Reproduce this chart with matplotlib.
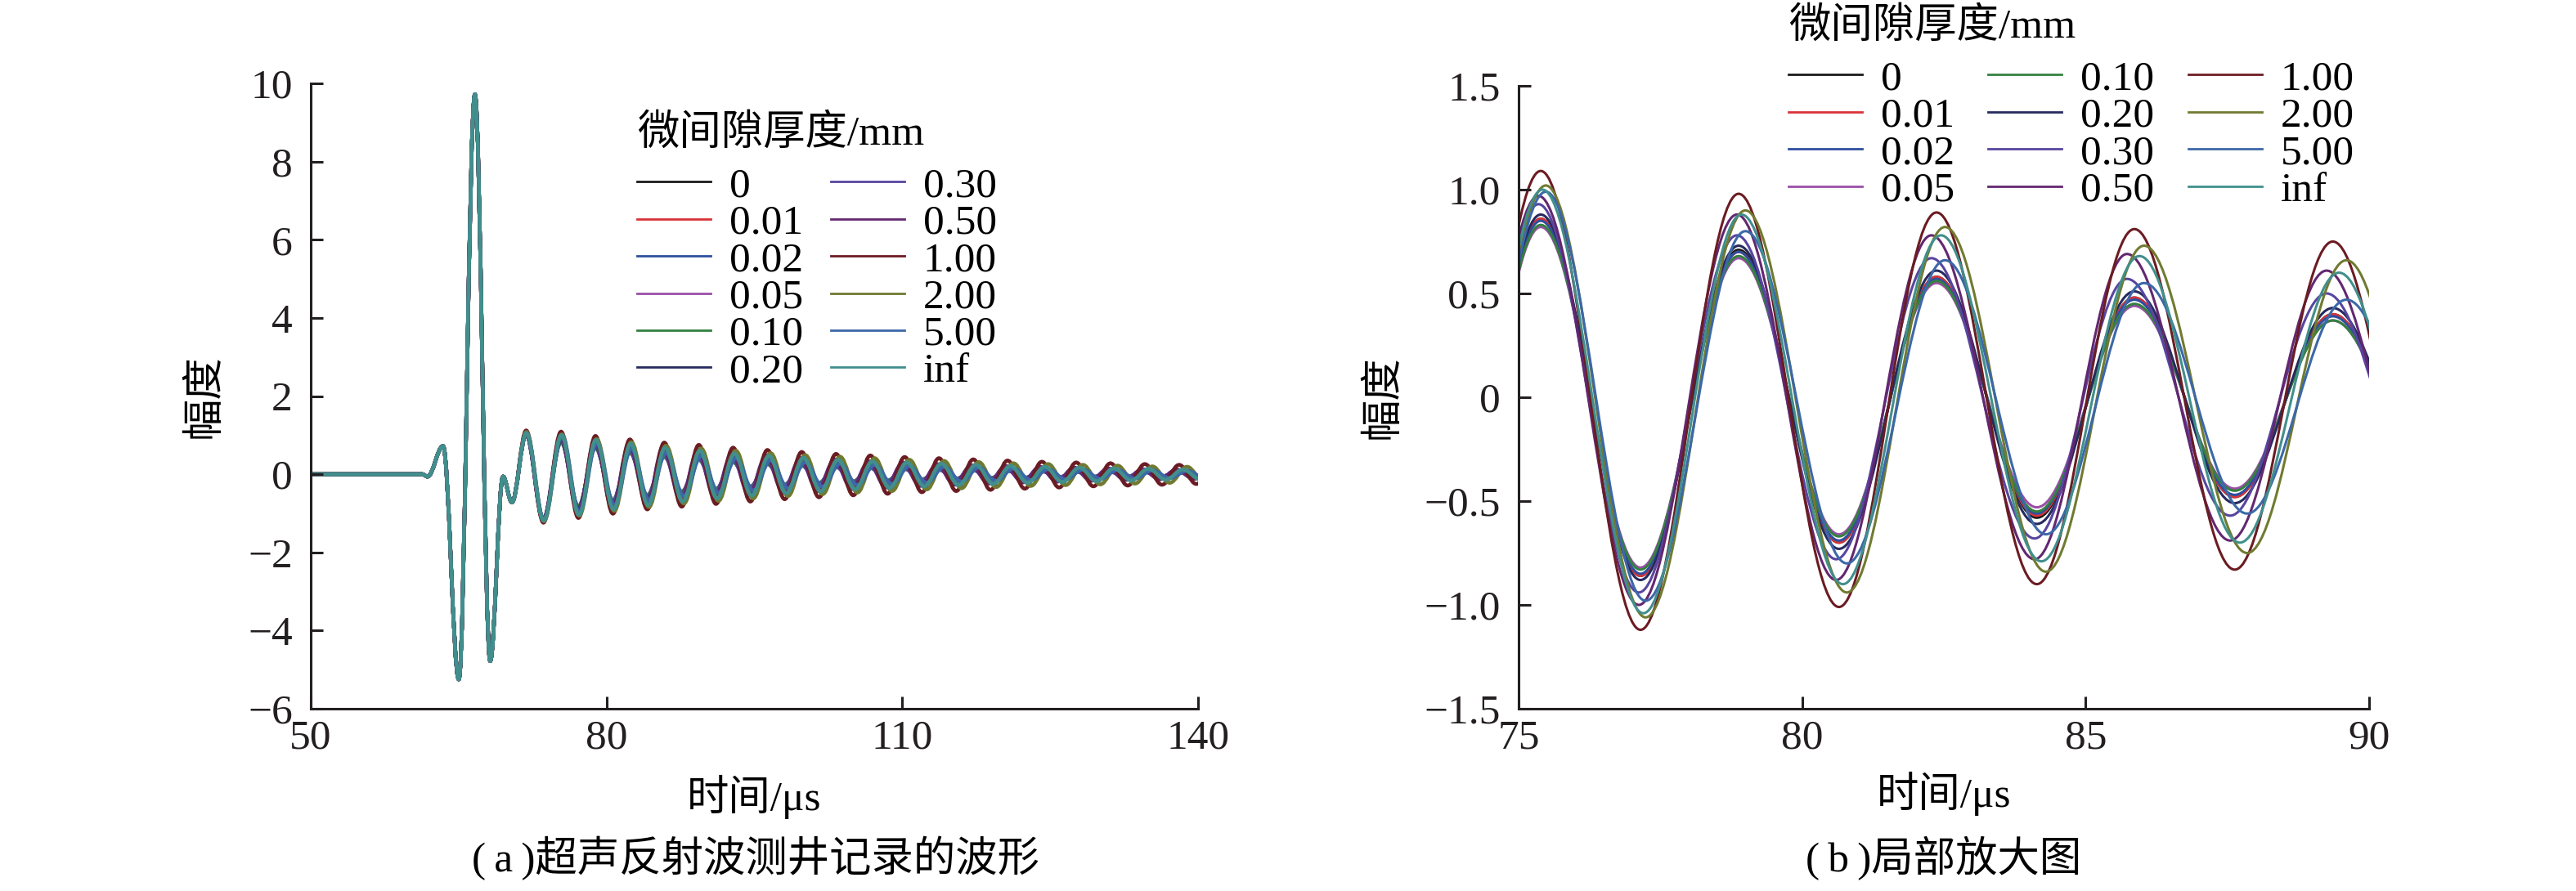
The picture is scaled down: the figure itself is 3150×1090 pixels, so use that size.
import matplotlib.pyplot as plt
from matplotlib.path import Path
from matplotlib.patches import PathPatch
from matplotlib.lines import Line2D

plt.rcParams['font.family'] = ['Liberation Serif', 'Noto Sans CJK SC']
plt.rcParams['font.size'] = 37

# ---- data ----
gap_labels = ['0', '0.01', '0.02', '0.05', '0.10', '0.20',
              '0.30', '0.50', '1.00', '2.00', '5.00', 'inf']
line_colors = ['#1a1a1a', '#d93338', '#2e4f9e', '#9b4fa8', '#348040', '#262a5e',
               '#5845a0', '#632770', '#6b1c22', '#717a30', '#3c68a8', '#418f8c']

# common direct pulse (extrema, µs / amplitude)
t_pulse = [50.0, 61.3, 61.85, 63.42, 65.02, 66.65, 68.2, 69.5, 70.4]
a_pulse = [0.0, 0.0, -0.06, 0.72, -5.25, 9.72, -4.78, -0.06, -0.72]

# ringing extrema times, grouped by phase
tp_mid = [71.85, 75.39, 78.88, 82.37, 85.86, 89.36, 92.84, 96.32, 99.80, 103.28, 106.76,
          110.24, 113.72, 117.20, 120.68, 124.16, 127.64, 131.12, 134.60, 138.08, 141.56]
tt_mid = [73.60, 77.15, 80.65, 84.14, 87.63, 91.11, 94.59, 98.07, 101.55, 105.03,
          108.51, 111.99, 115.47, 118.95, 122.43, 125.91, 129.39, 132.87, 136.35, 139.83]
tp_early = [71.83, 75.35, 78.85, 82.28, 85.73, 89.25, 92.72, 96.19, 99.66, 103.13, 106.60,
            110.07, 113.54, 117.01, 120.48, 123.95, 127.42, 130.89, 134.36, 137.83, 141.30]
tt_early = [73.58, 77.12, 80.60, 84.10, 87.55, 90.99, 94.46, 97.93, 101.40, 104.87,
            108.34, 111.81, 115.28, 118.75, 122.22, 125.69, 129.16, 132.63, 136.10, 139.57]
tp_inf = [71.86, 75.42, 78.93, 82.45, 85.95, 89.47, 92.97, 96.47, 99.97, 103.47, 106.97,
          110.47, 113.97, 117.47, 120.97, 124.47, 127.97, 131.47, 134.97, 138.47, 141.97]
tt_inf = [73.62, 77.20, 80.72, 84.22, 87.72, 91.22, 94.72, 98.22, 101.72, 105.22,
          108.72, 112.22, 115.72, 119.22, 122.72, 126.22, 129.72, 133.22, 136.72, 140.22]
tp_late = [71.88, 75.48, 79.00, 82.52, 86.03, 89.60, 93.12, 96.64, 100.16, 103.68, 107.20,
           110.72, 114.24, 117.76, 121.28, 124.80, 128.32, 131.84, 135.36, 138.88, 142.40]
tt_late = [73.65, 77.24, 80.79, 84.30, 87.85, 91.36, 94.88, 98.40, 101.92, 105.44,
           108.96, 112.48, 116.00, 119.52, 123.04, 126.56, 130.08, 133.60, 137.12, 140.64]

# ringing peak / trough amplitudes per gap thickness
pk_000 = [1.02, 0.86, 0.71, 0.58, 0.48, 0.40, 0.34, 0.29, 0.25, 0.21, 0.18,
          0.16, 0.14, 0.12, 0.10, 0.09, 0.08, 0.07, 0.06, 0.05, 0.05]
tr_000 = [-1.15, -0.86, -0.70, -0.58, -0.48, -0.41, -0.35, -0.29, -0.25, -0.21,
          -0.18, -0.16, -0.14, -0.12, -0.10, -0.09, -0.08, -0.07, -0.06, -0.05]
pk_001 = [1.02, 0.86, 0.70, 0.58, 0.48, 0.40, 0.34, 0.29, 0.24, 0.21, 0.18,
          0.15, 0.13, 0.12, 0.10, 0.09, 0.08, 0.07, 0.06, 0.05, 0.05]
tr_001 = [-1.15, -0.86, -0.70, -0.57, -0.48, -0.40, -0.34, -0.29, -0.25, -0.21,
          -0.18, -0.15, -0.13, -0.12, -0.10, -0.09, -0.08, -0.07, -0.06, -0.05]
pk_002 = [1.02, 0.85, 0.70, 0.57, 0.47, 0.39, 0.33, 0.28, 0.24, 0.20, 0.17,
          0.15, 0.13, 0.11, 0.10, 0.08, 0.07, 0.06, 0.06, 0.05, 0.04]
tr_002 = [-1.15, -0.85, -0.69, -0.56, -0.47, -0.40, -0.33, -0.28, -0.24, -0.20,
          -0.17, -0.15, -0.13, -0.11, -0.10, -0.08, -0.07, -0.06, -0.05, -0.05]
pk_005 = [1.01, 0.82, 0.67, 0.55, 0.44, 0.37, 0.31, 0.26, 0.22, 0.18, 0.16,
          0.13, 0.11, 0.10, 0.09, 0.07, 0.06, 0.05, 0.05, 0.04, 0.04]
tr_005 = [-1.14, -0.82, -0.66, -0.53, -0.44, -0.37, -0.31, -0.26, -0.22, -0.18,
          -0.16, -0.13, -0.11, -0.10, -0.09, -0.07, -0.06, -0.05, -0.05, -0.04]
pk_010 = [1.01, 0.83, 0.68, 0.56, 0.45, 0.37, 0.31, 0.26, 0.22, 0.19, 0.16,
          0.14, 0.12, 0.10, 0.09, 0.08, 0.07, 0.06, 0.05, 0.04, 0.04]
tr_010 = [-1.14, -0.83, -0.67, -0.55, -0.45, -0.38, -0.32, -0.27, -0.22, -0.19,
          -0.16, -0.14, -0.12, -0.10, -0.09, -0.08, -0.07, -0.06, -0.05, -0.04]
pk_020 = [1.03, 0.88, 0.73, 0.61, 0.51, 0.43, 0.37, 0.31, 0.27, 0.23, 0.20,
          0.17, 0.15, 0.13, 0.11, 0.10, 0.09, 0.08, 0.07, 0.06, 0.06]
tr_020 = [-1.16, -0.88, -0.73, -0.61, -0.51, -0.44, -0.37, -0.32, -0.27, -0.23,
          -0.20, -0.17, -0.15, -0.13, -0.11, -0.10, -0.09, -0.08, -0.07, -0.06]
pk_030 = [1.04, 0.93, 0.78, 0.67, 0.57, 0.50, 0.43, 0.38, 0.33, 0.29, 0.25,
          0.22, 0.20, 0.17, 0.15, 0.14, 0.12, 0.11, 0.10, 0.09, 0.08]
tr_030 = [-1.17, -0.94, -0.78, -0.68, -0.57, -0.50, -0.44, -0.38, -0.33, -0.29,
          -0.26, -0.23, -0.20, -0.18, -0.16, -0.14, -0.12, -0.11, -0.10, -0.09]
pk_050 = [1.05, 0.97, 0.88, 0.78, 0.69, 0.61, 0.54, 0.48, 0.42, 0.38, 0.33,
          0.30, 0.26, 0.23, 0.21, 0.19, 0.17, 0.15, 0.13, 0.12, 0.11]
tr_050 = [-1.18, -1.00, -0.88, -0.78, -0.69, -0.61, -0.54, -0.48, -0.43, -0.38,
          -0.34, -0.30, -0.27, -0.24, -0.21, -0.19, -0.17, -0.15, -0.13, -0.12]
pk_100 = [1.12, 1.09, 0.98, 0.89, 0.81, 0.75, 0.68, 0.62, 0.57, 0.52, 0.48,
          0.44, 0.41, 0.38, 0.35, 0.32, 0.30, 0.28, 0.26, 0.24, 0.23]
tr_100 = [-1.24, -1.12, -1.01, -0.90, -0.83, -0.76, -0.70, -0.64, -0.59, -0.54,
          -0.50, -0.46, -0.43, -0.40, -0.37, -0.34, -0.31, -0.29, -0.27, -0.25]
pk_200 = [1.08, 1.02, 0.90, 0.82, 0.73, 0.66, 0.60, 0.54, 0.49, 0.45, 0.41,
          0.37, 0.34, 0.31, 0.28, 0.26, 0.24, 0.22, 0.20, 0.19, 0.18]
tr_200 = [-1.20, -1.06, -0.94, -0.84, -0.75, -0.68, -0.62, -0.56, -0.51, -0.47,
          -0.43, -0.39, -0.36, -0.33, -0.30, -0.28, -0.26, -0.24, -0.22, -0.20]
pk_500 = [1.05, 0.99, 0.80, 0.66, 0.55, 0.47, 0.41, 0.36, 0.31, 0.27, 0.24,
          0.21, 0.19, 0.17, 0.15, 0.13, 0.12, 0.11, 0.10, 0.09, 0.08]
tr_500 = [-1.17, -0.98, -0.80, -0.66, -0.56, -0.48, -0.42, -0.36, -0.32, -0.28,
          -0.25, -0.22, -0.19, -0.17, -0.15, -0.13, -0.12, -0.11, -0.10, -0.09]
pk_inf = [1.05, 1.00, 0.88, 0.78, 0.68, 0.60, 0.53, 0.47, 0.42, 0.37, 0.33,
          0.30, 0.27, 0.24, 0.21, 0.19, 0.17, 0.15, 0.14, 0.12, 0.11]
tr_inf = [-1.19, -1.04, -0.90, -0.79, -0.70, -0.62, -0.55, -0.49, -0.44, -0.39,
          -0.35, -0.31, -0.28, -0.25, -0.22, -0.20, -0.18, -0.16, -0.14, -0.13]

amp_peaks = [pk_000, pk_001, pk_002, pk_005, pk_010, pk_020,
             pk_030, pk_050, pk_100, pk_200, pk_500, pk_inf]
amp_troughs = [tr_000, tr_001, tr_002, tr_005, tr_010, tr_020,
               tr_030, tr_050, tr_100, tr_200, tr_500, tr_inf]
time_peaks = [tp_mid, tp_mid, tp_mid, tp_mid, tp_mid, tp_mid,
              tp_early, tp_early, tp_mid, tp_late, tp_late, tp_inf]
time_troughs = [tt_mid, tt_mid, tt_mid, tt_mid, tt_mid, tt_mid,
                tt_early, tt_early, tt_mid, tt_late, tt_late, tt_inf]

xticks_a = [50, 80, 110, 140]
yticks_a = [-6, -4, -2, 0, 2, 4, 6, 8, 10]
ylabels_a = ['\u22126', '\u22124', '\u22122', '0', '2', '4', '6', '8', '10']
xticks_b = [75, 80, 85, 90]
yticks_b = [-1.5, -1.0, -0.5, 0, 0.5, 1.0, 1.5]
ylabels_b = ['\u22121.5', '\u22121.0', '\u22120.5', '0', '0.5', '1.0', '1.5']


def wave_path(ts, ys, k=0.3634):
    # straight baseline, then smooth cubic segments between the read extrema
    verts = [(ts[0], ys[0]), (ts[1], ys[1])]
    codes = [Path.MOVETO, Path.LINETO]
    for i in range(1, len(ts) - 1):
        t0, y0, t1, y1 = ts[i], ys[i], ts[i + 1], ys[i + 1]
        d = t1 - t0
        verts += [(t0 + k * d, y0), (t1 - k * d, y1), (t1, y1)]
        codes += [Path.CURVE4] * 3
    return Path(verts, codes)


def curve_extrema(i):
    ts, ys = list(t_pulse), list(a_pulse)
    tp, tt = time_peaks[i], time_troughs[i]
    pk, tr = amp_peaks[i], amp_troughs[i]
    for j in range(len(tt)):
        ts += [tp[j], tt[j]]
        ys += [pk[j], tr[j]]
    ts.append(tp[-1])
    ys.append(pk[-1])
    return ts, ys


def style_axes(ax):
    for s in ['top', 'right']:
        ax.spines[s].set_visible(False)
    for s in ['left', 'bottom']:
        ax.spines[s].set_linewidth(2.2)
        ax.spines[s].set_color('#231f20')
    ax.tick_params(direction='in', length=11, width=2.2, colors='#231f20', labelsize=37)
    ax.tick_params(axis='y', pad=16)
    ax.tick_params(axis='x', pad=9)


fig = plt.figure(figsize=(31.5, 10.9), dpi=100)
ax1 = fig.add_axes([380 / 3150, 1 - 867 / 1090, 1085 / 3150, 765 / 1090])
ax2 = fig.add_axes([1857 / 3150, 1 - 867 / 1090, 1040 / 3150, 762 / 1090])

for ax, lw in [(ax1, 3.3), (ax2, 2.2)]:
    for i in range(len(gap_labels)):
        ts, ys = curve_extrema(i)
        ax.add_patch(PathPatch(wave_path(ts, ys), fill=False, edgecolor=line_colors[i],
                               lw=lw, joinstyle='round', capstyle='round'))
    style_axes(ax)
    ax.set_ylabel('幅度', va='center', ha='center')
    ax.set_xlabel('时间/μs', va='center', ha='center')

ax1.set_xlim(50, 140)
ax1.set_ylim(-6, 10)
ax1.set_xticks(xticks_a)
ax1.set_yticks(yticks_a, ylabels_a)
ax1.yaxis.set_label_coords(-0.119, 0.5)
ax1.xaxis.set_label_coords(0.5, -0.141)

ax2.set_xlim(75, 90)
ax2.set_ylim(-1.5, 1.5)
ax2.set_xticks(xticks_b)
ax2.set_yticks(yticks_b, ylabels_b)
ax2.yaxis.set_label_coords(-0.159, 0.5)
ax2.xaxis.set_label_coords(0.5, -0.136)

handles = [Line2D([], [], color=c, lw=2.0) for c in line_colors]
leg_kw = dict(frameon=False, loc='upper left', bbox_transform=fig.transFigure,
              borderpad=0, borderaxespad=0, handlelength=1.75, handletextpad=0.45,
              labelspacing=-0.03, alignment='left',
              title='微间隙厚度/mm', title_fontsize=37, fontsize=37)
leg1 = ax1.legend(handles, gap_labels, ncol=2, columnspacing=0.65,
                  bbox_to_anchor=(779 / 3150, 1 - 140 / 1090), **leg_kw)
leg2 = ax2.legend(handles, gap_labels, ncol=3, columnspacing=0.8,
                  bbox_to_anchor=(2187 / 3150, 1 - 9 / 1090), **leg_kw)
# extra gap between legend title and entries
for leg in (leg1, leg2):
    leg._legend_box.sep = 12

fig.text(924 / 3150, 1 - 1050 / 1090, '(\u2009a\u2009)超声反射波测井记录的波形', ha='center', va='center')
fig.text(2377 / 3150, 1 - 1050 / 1090, '(\u2009b\u2009)局部放大图', ha='center', va='center')

fig.savefig('out.png', dpi=100)
